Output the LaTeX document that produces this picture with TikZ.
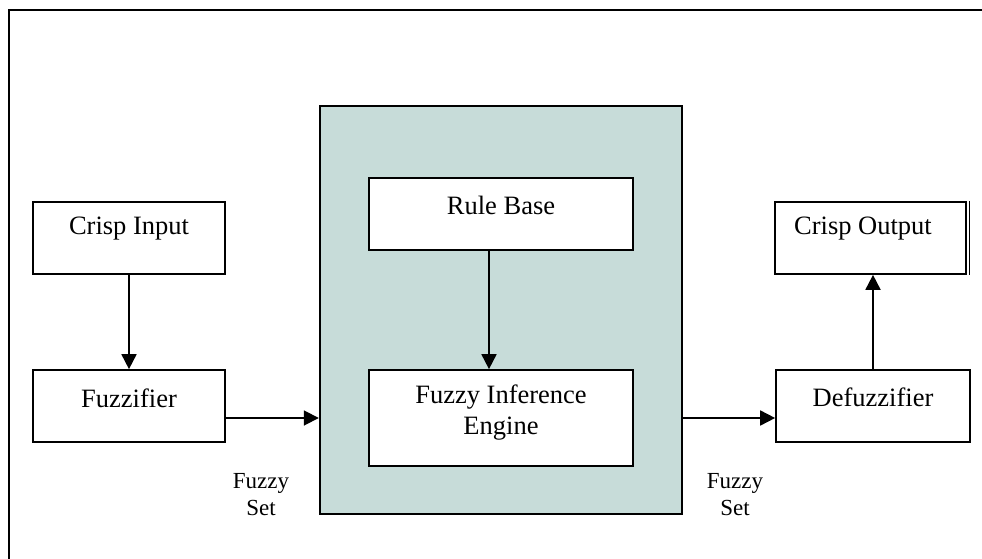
\documentclass[tikz,border=0pt]{standalone}
\usepackage{fontspec}
\setmainfont{Liberation Serif}
\usetikzlibrary{arrows.meta}
\definecolor{enginefill}{RGB}{199,220,217}
\tikzset{
  blk/.style={draw=black, line width=1.7pt, fill=white, minimum width=#1, inner sep=0pt},
  blk/.default=192pt,
  txt/.style={font=\fontsize{26.5}{31}\selectfont, inner sep=0pt, align=center},
  small/.style={font=\fontsize{23}{27}\selectfont, inner sep=0pt, align=center},
  arr/.style={line width=1.8pt, -{Triangle[length=15pt,width=15pt]}},
}
\begin{document}
\begin{tikzpicture}[x=1pt,y=-1pt]
\useasboundingbox (0,0) rectangle (982,559);
% open frame around the whole diagram
\draw[line width=1.9pt] (982,10) -- (9,10) -- (9,559);

% inference block
\node[draw=black, line width=2.4pt, fill=enginefill, minimum width=362pt, minimum height=408pt, inner sep=0pt] (big) at (501,310) {};

% blocks
\node[blk=192pt, minimum height=72pt] (ci) at (129,238) {};
\node[txt] (ciT) at (129,229) {Crisp Input};
\node[blk=192pt, minimum height=72pt] (fz) at (129,406) {};
\node[txt] (fzT) at (129,398) {Fuzzifier};
\node[blk=264pt, minimum height=72pt] (rb) at (501,214) {};
\node[txt] (rbT) at (501,205) {Rule Base};
\node[blk=264pt, minimum height=96pt] (fie) at (501,418) {};
\node[txt] (fieT) at (501,413) {Fuzzy Inference\\Engine};
\node[blk=194pt, minimum height=72pt] (df) at (873,406) {};
\node[txt] (dfT) at (873,397) {Defuzzifier};
\node[blk=191pt, minimum height=72pt] (co) at (870.5,238) {};
\node[txt] (coT) at (863,229) {Crisp Output};
\draw[line width=1.2pt] ([xshift=3pt]co.north east) -- ([xshift=3pt]co.south east);

% connectors
\draw[arr] (ci.south) -- (fz.north);
\draw[arr] ([yshift=-12pt]fz.east) -- ([yshift=-12pt]fz.east -| big.west);
\draw[arr] ([xshift=-12pt]rb.south) -- ([xshift=-12pt]fie.north);
\draw[arr] ([yshift=-12pt]df.west -| big.east) -- ([yshift=-12pt]df.west);
\draw[arr] (df.north) -- (df.north |- co.south);

% labels
\node[small] (fsL) at (261,495) {Fuzzy\\Set};
\node[small] (fsR) at (735,495) {Fuzzy\\Set};
\end{tikzpicture}
\end{document}
